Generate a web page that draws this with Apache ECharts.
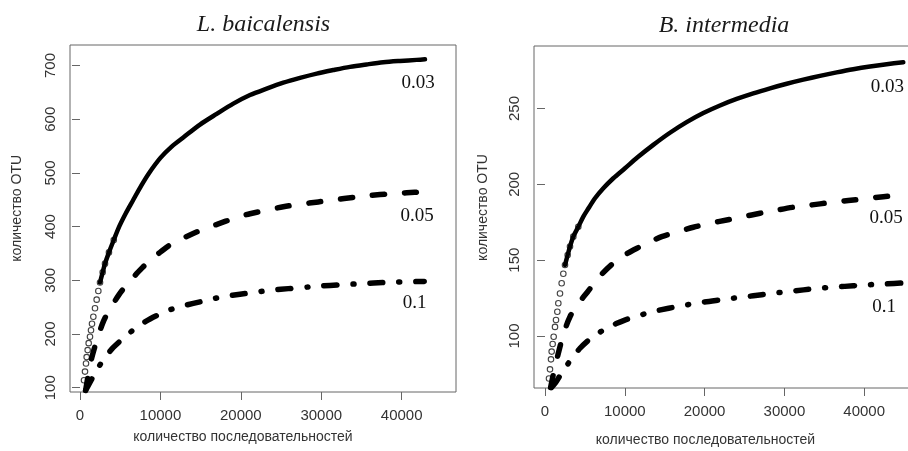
<!DOCTYPE html>
<html><head><meta charset="utf-8">
<script src="https://cdn.jsdelivr.net/npm/echarts@6/dist/echarts.min.js"></script>
<style>html,body{margin:0;padding:0;background:#fff}#c{width:908px;height:451px}</style>
</head><body><div id="c"></div>
<script>
// ---- text ----
const panelTitles = ['L. baicalensis', 'B. intermedia'];
const cutoffLabels = ['0.03', '0.05', '0.1'];
const xAxisName = 'количество последовательностей';
const yAxisName = 'количество OTU';
// ---- tick labels ----
const xTicks = [0, 10000, 20000, 30000, 40000];
const yTicksLeft = [100, 200, 300, 400, 500, 600, 700];
const yTicksRight = [100, 150, 200, 250];

// ---- L. baicalensis: [sequences, OTU] ----
const lb003 = [[497,114],[622,130],[746,145],[829,157],[953,170],[1078,183],[1243,195],[1368,207],[1492,219],[1658,232],[1865,248],[2072,264],[2280,280],[2490,296],[2820,315],[3110,331],[3600,352],[4200,375],[4870,400],[5700,425],[6630,450],[7600,476],[8600,500],[10000,528],[11400,549],[12845,566],[14922,590],[17000,610],[19063,629],[21139,645],[23216,657],[25280,668],[27356,677],[29433,685],[31497,691.5],[33574,697.5],[35650,702],[37714,706],[39791,708.5],[41868,710.5],[42900,711.5]];
const lb005 = [[700,95],[950,117],[1200,137],[1451,155],[1800,174],[2156,192],[2901,223],[3500,241],[4145,257],[5181,280],[6839,309],[8083,328.5],[8704,338],[9948,352],[11403,368],[13470,383],[15133,394],[17197,405],[19063,415],[21139,424],[23004,430],[25280,437],[27356,441.5],[29632,446],[31709,450],[33984,454.5],[36061,458],[38548,461],[40624,463],[42900,465]];
const lb01 = [[700,95],[1035,104],[1600,120],[2156,135],[3027,154],[4145,175],[6008,200],[7254,215],[8704,228],[10781,243],[12223,250],[14089,257],[16376,265],[18030,270],[19895,274],[22383,279],[24036,282],[25902,284.5],[28389,287.5],[30055,289.5],[32118,291.5],[34600,293.5],[36500,295],[39000,296.5],[42800,298]];

// ---- B. intermedia ----
const bi003 = [[501,72],[627,78],[752,84.6],[835,89.7],[960,94.7],[1086,99.5],[1253,106],[1378,110.5],[1546,116],[1671,121.6],[1880,128],[2088,134.8],[2297,141],[2506,146.8],[2841,153.4],[3133,159],[3550,165.5],[4177,172],[4803,178.7],[5430,184],[6266,190.8],[7310,197.4],[8563,204],[10025,210.6],[11600,217.8],[13570,226],[15660,234],[17750,241],[19840,247],[21930,252],[24020,256.3],[26100,260],[28200,263.3],[30290,266.3],[32370,269],[34460,271.5],[36550,273.8],[38630,275.9],[40730,277.7],[42820,279.2],[44900,280.5]];
const bi005 = [[700,66],[1100,76],[1671,88.6],[2300,101],[3133,112.7],[4200,121.5],[5351,129.2],[6800,139],[8437,147.5],[10000,153.5],[11905,158.9],[12744,161],[14624,165.5],[16704,168.8],[18584,171.7],[20677,174.3],[22770,176.5],[24850,178.7],[26942,180.9],[29035,183],[31115,184.9],[33421,186.4],[35501,187.8],[38007,189.3],[40100,190.5],[42393,191.8],[44486,193]];
const bi01 = [[800,66],[1300,69],[1900,74],[2590,79.4],[3400,85.5],[4386,91.9],[5400,97],[6479,101.1],[7600,104.8],[8855,108],[10000,110.5],[11278,112.7],[13158,115.6],[15500,118.3],[17757,120.5],[19800,122.3],[21930,123.8],[24000,125.2],[26103,126.5],[28200,127.9],[30288,129.2],[32400,130.4],[34461,131.5],[36500,132.3],[38634,133.1],[40700,133.8],[42820,134.4],[44900,135]];

const SANS = '"Liberation Sans", Arial, sans-serif';
const SERIF = '"Liberation Serif", "Times New Roman", serif';
const AX = '#666';

function xAxisCfg(gi, min, max) {
  return {
    gridIndex: gi, type: 'value', min: min, max: max,
    axisLine: {show: false}, splitLine: {show: false},
    axisTick: {show: true, customValues: xTicks, length: 8, lineStyle: {color: AX, width: 1}},
    axisLabel: {customValues: xTicks, margin: 16, fontSize: 15, color: '#333', fontFamily: SANS,
      formatter: v => String(v)}
  };
}
function yAxisCfg(gi, min, max, ticks) {
  return {
    gridIndex: gi, type: 'value', min: min, max: max,
    axisLine: {show: false}, splitLine: {show: false},
    axisTick: {show: true, customValues: ticks, length: 8, lineStyle: {color: AX, width: 1}},
    axisLabel: {customValues: ticks, rotate: 90, margin: 12, fontSize: 15, color: '#333', fontFamily: SANS,
      formatter: v => String(v)}
  };
}
function seriesFor(i, s003, s005, s01, circleMax, lineMin) {
  return [
    {type: 'line', xAxisIndex: i, yAxisIndex: i, data: s003.filter(p => p[0] >= lineMin),
     symbol: 'none', smooth: 0.3, silent: true,
     lineStyle: {color: '#000', width: 4.5, cap: 'round', join: 'round'}},
    {type: 'scatter', xAxisIndex: i, yAxisIndex: i, data: s003.filter(p => p[0] <= circleMax),
     symbol: 'circle', symbolSize: 5.5, silent: true,
     itemStyle: {color: 'rgba(0,0,0,0)', borderColor: '#111', borderWidth: 1.1}},
    {type: 'line', xAxisIndex: i, yAxisIndex: i, data: s005, symbol: 'none', smooth: 0.3, silent: true,
     lineStyle: {color: '#000', width: 5.5, type: [12, 20], cap: 'round', join: 'round'}},
    {type: 'line', xAxisIndex: i, yAxisIndex: i, data: s01, symbol: 'none', smooth: 0.3, silent: true,
     lineStyle: {color: '#000', width: 5.5, type: [13, 16, 1, 16], cap: 'round', join: 'round'}}
  ];
}
function txt(x, y, text, font, fill, rot) {
  return {type: 'text', x: x, y: y, rotation: rot || 0, silent: true,
    style: {text: text, font: font, fill: fill, align: 'center', verticalAlign: 'middle'}};
}

const chart = echarts.init(document.getElementById('c'));
chart.setOption({
  animation: false,
  backgroundColor: '#fff',
  grid: [
    {left: 70, top: 45, width: 386, height: 347, show: true, borderColor: AX, borderWidth: 1,
     backgroundColor: 'transparent', containLabel: false, outerBoundsMode: 'none'},
    {left: 534, top: 46, width: 396, height: 342, show: true, borderColor: AX, borderWidth: 1,
     backgroundColor: 'transparent', containLabel: false, outerBoundsMode: 'none'}
  ],
  xAxis: [xAxisCfg(0, -1243, 46755), xAxisCfg(1, -1378, 48246)],
  yAxis: [yAxisCfg(0, 92, 738.2, yTicksLeft), yAxisCfg(1, 65.7, 291.2, yTicksRight)],
  series: [].concat(
    seriesFor(0, lb003, lb005, lb01, 4200, 2490),
    seriesFor(1, bi003, bi005, bi01, 4200, 2506)
  ),
  graphic: [
    txt(263.5, 24.2, panelTitles[0], 'italic 24px ' + SERIF, '#1a1a1a'),
    txt(724, 25.8, panelTitles[1], 'italic 24px ' + SERIF, '#1a1a1a'),
    txt(418, 83.3, cutoffLabels[0], '19px ' + SERIF, '#111'),
    txt(417, 215.8, cutoffLabels[1], '19px ' + SERIF, '#111'),
    txt(414.7, 303.3, cutoffLabels[2], '19px ' + SERIF, '#111'),
    txt(887.3, 86.7, cutoffLabels[0], '19px ' + SERIF, '#111'),
    txt(886, 218.3, cutoffLabels[1], '19px ' + SERIF, '#111'),
    txt(884.2, 306.7, cutoffLabels[2], '19px ' + SERIF, '#111'),
    txt(243, 437.5, xAxisName, '14px ' + SANS, '#333'),
    txt(705.5, 440.5, xAxisName, '14px ' + SANS, '#333'),
    txt(16.8, 208.3, yAxisName, '14px ' + SANS, '#333', Math.PI / 2),
    txt(483.4, 207.5, yAxisName, '14px ' + SANS, '#333', Math.PI / 2)
  ]
});
</script></body></html>
